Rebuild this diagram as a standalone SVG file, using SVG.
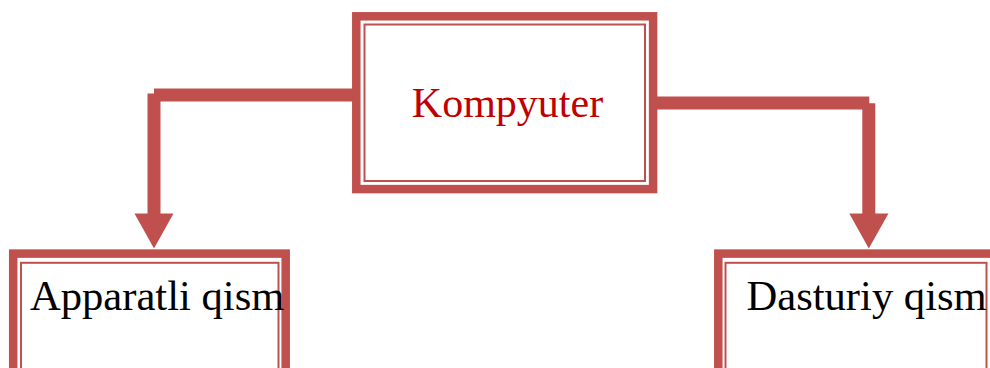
<svg xmlns="http://www.w3.org/2000/svg" width="990" height="368" viewBox="0 0 990 368">
<style>
.outer{fill:none;stroke:#C0504D;stroke-width:8.5}
.inner{fill:none;stroke:#C0504D;stroke-width:2}
.conn{stroke:#C0504D;stroke-width:13;fill:none;stroke-linecap:butt}
.head{fill:#C0504D}
.t{font-family:"Liberation Serif","Times New Roman",serif;font-size:42px}
.b{font-size:42.6px}
</style>
<rect width="990" height="368" fill="#ffffff"/>
<g id="connectors">
<line class="conn" x1="154" y1="95" x2="353" y2="95"/>
<line class="conn" x1="154" y1="93.5" x2="154" y2="214"/>
<polygon class="head" points="134.5,213.5 173.5,213.5 154,248.5"/>
<line class="conn" x1="656" y1="103" x2="869.3" y2="103"/>
<line class="conn" x1="868.8" y1="103.3" x2="868.8" y2="214"/>
<polygon class="head" points="849.3,213.5 888.5,213.5 868.8,248.5"/>
</g>
<g id="kompyuter">
<rect class="outer" x="356.3" y="16.3" width="296.8" height="172.8"/>
<rect class="inner" x="364.5" y="24.5" width="280.5" height="156.5"/>
<text class="t" x="507.5" y="117" fill="#C00000" text-anchor="middle">Kompyuter</text>
</g>
<g id="apparatli">
<rect class="outer" x="13.2" y="253.6" width="272.5" height="140"/>
<rect class="inner" x="21" y="262.8" width="257.5" height="140"/>
<text class="t b" x="30" y="309.5" fill="#000000">Apparatli qism</text>
</g>
<g id="dasturiy">
<rect class="outer" x="718.3" y="253.6" width="276" height="140"/>
<rect class="inner" x="725.5" y="262.8" width="261" height="140"/>
<text class="t b" x="746.5" y="309.5" fill="#000000">Dasturiy qism</text>
</g>
</svg>
